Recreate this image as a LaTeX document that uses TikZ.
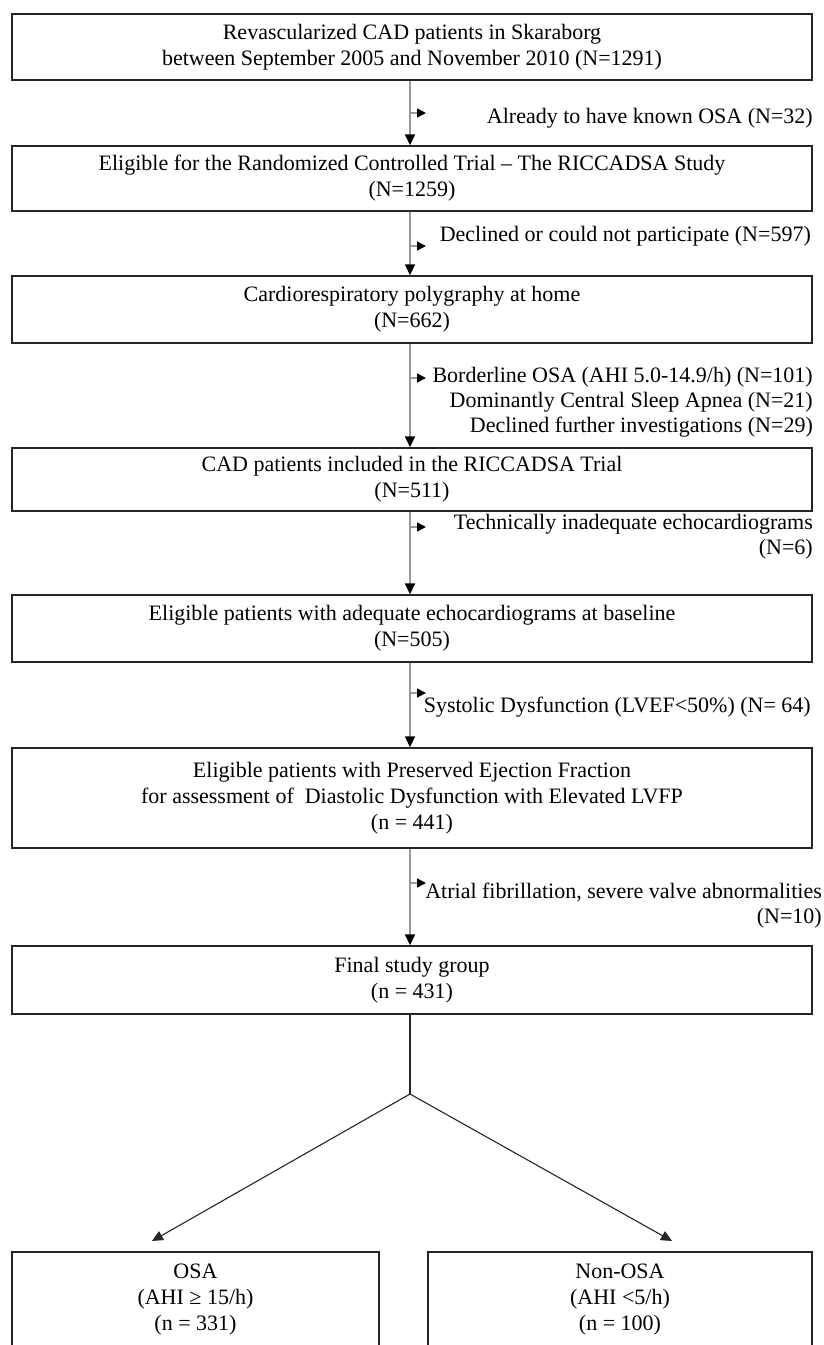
\documentclass[tikz,border=0pt]{standalone}
\usepackage{fontspec}
\setmainfont{Liberation Serif}
\usetikzlibrary{arrows.meta}
\begin{document}
\begin{tikzpicture}[x=1pt,y=-1pt,
  box/.style={draw=black!85, line width=1.4pt, rectangle, inner sep=0pt,
    align=center, font=\fontsize{22}{26}\selectfont},
  mainarr/.style={draw=black!40, line width=1.6pt,
    -{Triangle[length=11pt,width=10pt,color=black]}},
  sidearr/.style={draw=black!40, line width=1.6pt,
    -{Triangle[length=9pt,width=9pt,color=black]}},
  lab/.style={inner sep=0pt, align=right, anchor=east,
    font=\fontsize{22}{25}\selectfont},
  splitline/.style={draw=black!85, line width=1.1pt},
  splitarr/.style={draw=black!85, line width=1.1pt,
    -{Triangle[length=11pt,width=10pt]}}]
\clip (0,0) rectangle (824,1345);
\fill[white] (0,0) rectangle (824,1345);

% boxes
\node[box, minimum width=800pt, minimum height=66pt] (b1) at (412,47)
  {Revascularized CAD patients in Skaraborg\\between September 2005 and November 2010 (N=1291)};
\node[box, minimum width=800pt, minimum height=65pt] (b2) at (412,178.5)
  {Eligible for the Randomized Controlled Trial -- The RICCADSA Study\\(N=1259)};
\node[box, minimum width=800pt, minimum height=67pt] (b3) at (412,309.5)
  {Cardiorespiratory polygraphy at home\\(N=662)};
\node[box, minimum width=800pt, minimum height=63pt] (b4) at (412,479.5)
  {CAD patients included in the RICCADSA Trial\\(N=511)};
\node[box, minimum width=800pt, minimum height=67pt] (b5) at (412,628.5)
  {Eligible patients with adequate echocardiograms at baseline\\(N=505)};
\node[box, minimum width=800pt, minimum height=100pt] (b6) at (412,798)
  {Eligible patients with Preserved Ejection Fraction\\for assessment of\ \ Diastolic Dysfunction with Elevated LVFP\\(n = 441)};
\node[box, minimum width=800pt, minimum height=68pt] (b7) at (412,980)
  {Final study group\\(n = 431)};
\node[box, minimum width=367pt, minimum height=96pt] (bl) at (195.5,1300)
  {OSA\\(AHI ≥ 15/h)\\(n = 331)};
\node[box, minimum width=384pt, minimum height=96pt] (br) at (620,1300)
  {Non-OSA\\(AHI <5/h)\\(n = 100)};

% main vertical connectors
\draw[mainarr] ([xshift=-2pt]b1.south) -- ([xshift=-2pt]b2.north);
\draw[mainarr] ([xshift=-2pt]b2.south) -- ([xshift=-2pt]b3.north);
\draw[mainarr] ([xshift=-2pt]b3.south) -- ([xshift=-2pt]b4.north);
\draw[mainarr] ([xshift=-2pt]b4.south) -- ([xshift=-2pt]b5.north);
\draw[mainarr] ([xshift=-2pt]b5.south) -- ([xshift=-2pt]b6.north);
\draw[mainarr] ([xshift=-2pt]b6.south) -- ([xshift=-2pt]b7.north);

% side exclusion arrows
\coordinate (s1) at (410,113);  \coordinate (e1) at (426,113);
\coordinate (s2) at (410,246);  \coordinate (e2) at (426,246);
\coordinate (s3) at (410,378);  \coordinate (e3) at (426,378);
\coordinate (s4) at (410,527);  \coordinate (e4) at (426,527);
\coordinate (s5) at (410,693);  \coordinate (e5) at (426,693);
\coordinate (s6) at (410,883);  \coordinate (e6) at (426,883);
\foreach \i in {1,...,6} {\draw[sidearr] (s\i) -- (e\i);}

% exclusion labels
\node[lab] (l1) at (813,118) {Already to have known OSA (N=32)};
\node[lab] (l2) at (811,236) {Declined or could not participate (N=597)};
\node[lab] (l3) at (813,402.5) {Borderline OSA (AHI 5.0-14.9/h) (N=101)\\Dominantly Central Sleep Apnea (N=21)\\Declined further investigations (N=29)};
\node[lab] (l4) at (813,537) {Technically inadequate echocardiograms\\(N=6)};
\node[lab] (l5) at (811,707) {Systolic Dysfunction (LVEF<50\%) (N= 64)};
\node[lab] (l6) at (822,905.5) {Atrial fibrillation, severe valve abnormalities\\(N=10)};

% split to groups
\coordinate (split) at (410,1094);
\coordinate (tl) at (152,1241);
\coordinate (tr) at (672,1241);
\draw[splitline] ([xshift=-2pt]b7.south) -- (split);
\draw[splitarr] (split) -- (tl);
\draw[splitarr] (split) -- (tr);
\end{tikzpicture}
\end{document}
